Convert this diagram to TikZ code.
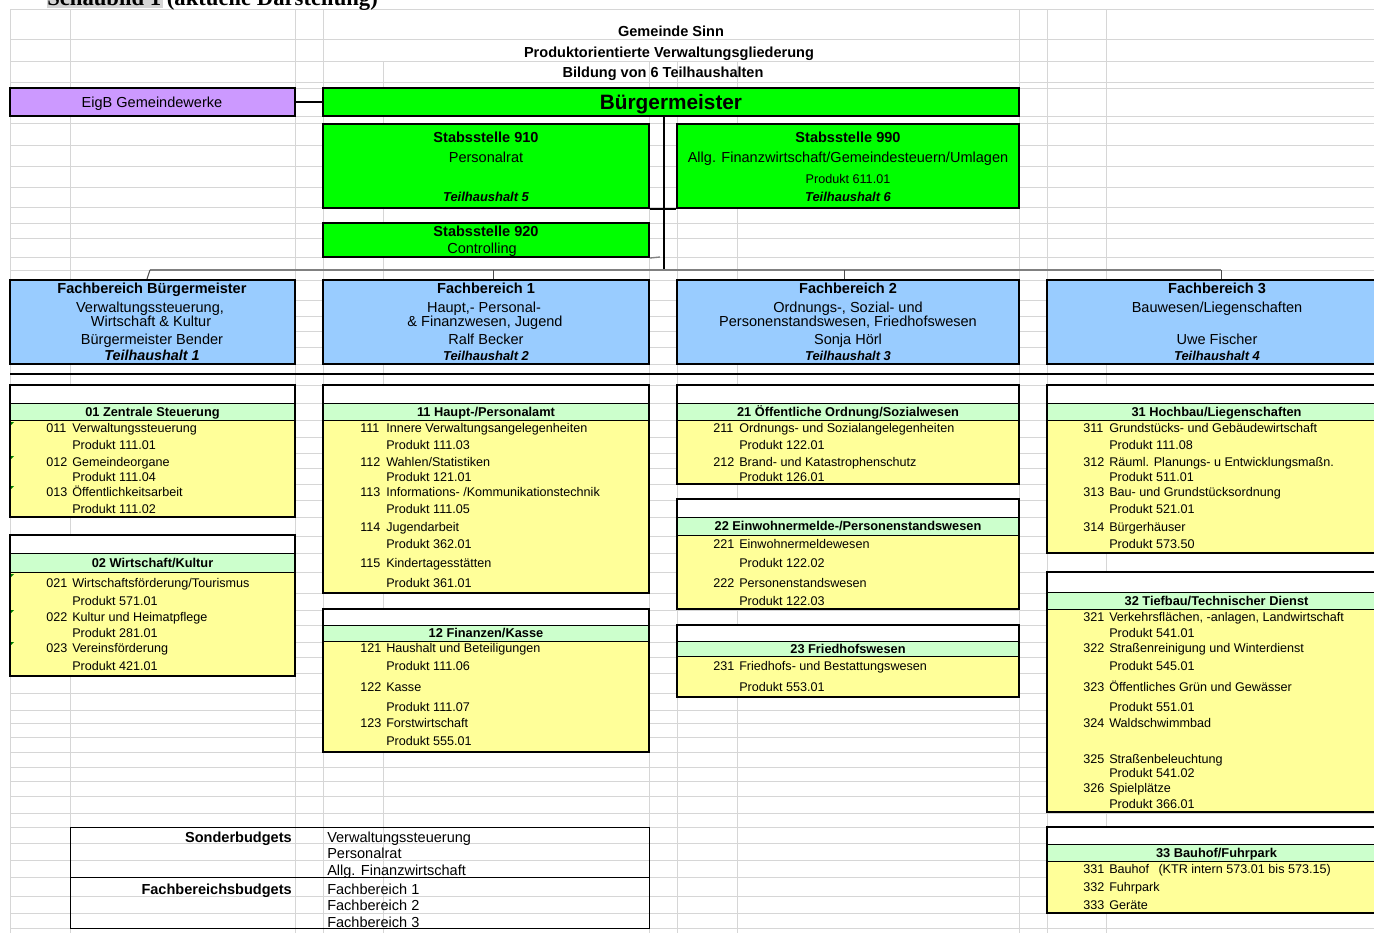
\documentclass[tikz,border=0pt]{standalone}
\usepackage{fontspec}
\setmainfont{Liberation Sans}
\newfontfamily\headserif{Liberation Serif}
\usetikzlibrary{fit}

\definecolor{eigblila}{HTML}{CC99FF}
\definecolor{bmgruen}{HTML}{00FF00}
\definecolor{fbblau}{HTML}{99CCFF}
\definecolor{kopfgruen}{HTML}{CCFFCC}
\definecolor{gelb}{HTML}{FFFF99}
\definecolor{gitter}{HTML}{D6D6D6}
\definecolor{linkgrau}{HTML}{808080}
\definecolor{markgrau}{HTML}{D4D4D4}
\definecolor{fehlergruen}{HTML}{008000}

\begin{document}
\begin{tikzpicture}[
  x = 0.75pt, y = -0.75pt,
  % one unit = one pixel of the sheet
  cellgrid/.style = {draw=gitter, line width=0.6pt},
  panel/.style    = {draw, line width=1.5pt, inner sep=0pt},
  seprule/.style  = {line width=0.75pt},
  conn/.style     = {line width=1.1pt},
  busline/.style  = {draw=linkgrau, line width=1.5pt},
  dropline/.style = {draw=black!70, line width=0.75pt},
  head/.style     = {anchor=base, inner sep=0pt, yshift=-3.9pt, font=\fontsize{10.9}{12}\selectfont\bfseries},
  lbl/.style      = {anchor=base, inner sep=0pt, yshift=-3.9pt, font=\fontsize{10.9}{12}\selectfont},
  thh/.style      = {anchor=base, inner sep=0pt, yshift=-3.5pt, font=\fontsize{9.7}{11}\selectfont\bfseries\itshape},
  prod/.style     = {anchor=base, inner sep=0pt, yshift=-3.4pt, font=\fontsize{9.45}{11}\selectfont},
  unithead/.style = {anchor=base, inner sep=0pt, yshift=-3.4pt, font=\fontsize{9.6}{11}\selectfont\bfseries},
  item/.style     = {anchor=base west, inner sep=0pt, yshift=-3.4pt, font=\fontsize{9.45}{11}\selectfont},
]
\useasboundingbox (0,0) rectangle (1374,933);
\clip (0,0) rectangle (1374,933);
\fill[white] (0,0) rectangle (1374,933);

% --- sheet grid
\foreach \gy in {9,39,61,82,88,116,123,145,166,187,207,223,238,257,270,280,300,316,331,347,364,374,
                 385,403,420,437,453,468,484,500,517,536,553,572,593,610,625,642,657,673,693,710,
                 723,737,752,767,781,796,813,827,843,860,877,896,913,928}
  \draw[cellgrid] (10,\gy) -- (1374,\gy);
\foreach \gx in {10,70,295,323,1019,1047,1106}
  \draw[cellgrid] (\gx,9) -- (\gx,933);
\foreach \gx in {383,649,677,737}
  \draw[cellgrid] (\gx,61) -- (\gx,933);

% --- caption above the sheet (cut by the page edge)
\fill[markgrau] (47,-15) rectangle (163,8);
\node[anchor=base west, inner sep=0pt, font=\headserif\fontsize{17}{20}\selectfont\bfseries]
  (schaubild) at (47,5) {Schaubild 1 (aktuelle Darstellung)};

% --- title rows
\node[head] (titel1) at (671,31) {Gemeinde Sinn};
\node[head] (titel2) at (669,52) {Produktorientierte Verwaltungsgliederung};
\node[head] (titel3) at (663,72) {Bildung von 6 Teilhaushalten};

% --- top row: Eigenbetrieb and Buergermeister
\node[panel, fill=eigblila, fit={(10,88) (295,116)}] (eigb) {};
\node[lbl] (eigb-t) at (152,102) {EigB Gemeindewerke};
\node[panel, fill=bmgruen, fit={(323,88) (1019,116)}] (bgm) {};
\node[head, yshift=-1.7pt, font=\fontsize{15.6}{18}\selectfont\bfseries] (bgm-t) at (671,102) {Bürgermeister};

% --- Stabsstellen
\node[panel, fill=bmgruen, fit={(323,124) (649,208)}] (st910) {};
\node[head] (st910-t) at (486,137) {Stabsstelle 910};
\node[lbl]  (st910-a) at (486,157) {Personalrat};
\node[thh]  (st910-h) at (486,197) {Teilhaushalt 5};

\node[panel, fill=bmgruen, fit={(677,124) (1019,208)}] (st990) {};
\node[head] (st990-t) at (848,137) {Stabsstelle 990};
\node[lbl]  (st990-a) at (848,157) {Allg. Finanzwirtschaft/Gemeindesteuern/Umlagen};
\node[prod] (st990-p) at (848,179) {Produkt 611.01};
\node[thh]  (st990-h) at (848,197) {Teilhaushalt 6};

\node[panel, fill=bmgruen, fit={(323,223) (649,257)}] (st920) {};
\node[head] (st920-t) at (486,231) {Stabsstelle 920};
\node[lbl]  (st920-a) at (482,248) {Controlling};

% --- Fachbereiche
\node[panel, fill=fbblau, fit={(10,280) (295,364)}] (fbbm) {};
\node[head] (fbbm-t) at (152,288) {Fachbereich Bürgermeister};
\node[lbl]  (fbbm-a) at (150,307) {Verwaltungssteuerung,};
\node[lbl]  (fbbm-b) at (151,321) {Wirtschaft \& Kultur};
\node[lbl]  (fbbm-c) at (152,339) {Bürgermeister Bender};
\node[thh, font=\fontsize{10.8}{12}\selectfont\bfseries\itshape] (fbbm-h) at (152,356) {Teilhaushalt 1};

\node[panel, fill=fbblau, fit={(323,280) (649,364)}] (fb1) {};
\node[head] (fb1-t) at (486,288) {Fachbereich 1};
\node[lbl]  (fb1-a) at (484,307) {Haupt,- Personal-};
\node[lbl]  (fb1-b) at (485,321) {\& Finanzwesen, Jugend};
\node[lbl]  (fb1-c) at (486,339) {Ralf Becker};
\node[thh]  (fb1-h) at (486,356) {Teilhaushalt 2};

\node[panel, fill=fbblau, fit={(677,280) (1019,364)}] (fb2) {};
\node[head] (fb2-t) at (848,288) {Fachbereich 2};
\node[lbl]  (fb2-a) at (848,307) {Ordnungs-, Sozial- und};
\node[lbl]  (fb2-b) at (848,321) {Personenstandswesen, Friedhofswesen};
\node[lbl]  (fb2-c) at (848,339) {Sonja Hörl};
\node[thh]  (fb2-h) at (848,356) {Teilhaushalt 3};

\node[panel, fill=fbblau, fit={(1047,280) (1386,364)}] (fb3) {};
\node[head] (fb3-t) at (1217,288) {Fachbereich 3};
\node[lbl]  (fb3-a) at (1217,307) {Bauwesen/Liegenschaften};
\node[lbl]  (fb3-c) at (1217,339) {Uwe Fischer};
\node[thh]  (fb3-h) at (1217,356) {Teilhaushalt 4};

% --- connectors
\draw[conn] (eigb.east) -- (bgm.west);
\coordinate (trunk) at (664,271);
\draw[conn] (bgm.south -| trunk) -- (trunk);
\draw[conn] (st910.south east) -- (st990.south west);
\coordinate (stub) at (660,257);
\draw[busline, line width=1pt] (st920.south east) -- (stub);
\coordinate (bus0) at (150,270);
\coordinate (bus1) at (493,270);
\coordinate (bus2) at (844,270);
\coordinate (bus3) at (1221,270);
\draw[busline] (bus0) -- (bus3);
\draw[dropline] (bus0) -- ([xshift=-2.25pt]bus0 |- fbbm.north);
\foreach \k/\fb in {1/fb1, 2/fb2, 3/fb3}
  \draw[dropline] (bus\k) -- (bus\k |- \fb.north);

\draw[line width=1.5pt] (10,374) -- (1374,374);

% --- unit panels: name/left/right/top/head top/head bottom/bottom/title
\foreach \nm/\xa/\xb/\ya/\yg/\yh/\yb/\ttl in {
    u01/10/295/385/403/420/517/{01 Zentrale Steuerung},
    u02/10/295/535/553/572/676/{02 Wirtschaft/Kultur},
    u11/323/649/385/403/420/593/{11 Haupt-/Personalamt},
    u12/323/649/609/625/641/752/{12 Finanzen/Kasse},
    u21/677/1019/385/403/420/484/{21 Öffentliche Ordnung/Sozialwesen},
    u22/677/1019/499/517/535/609/{22 Einwohnermelde-/Personenstandswesen},
    u23/677/1019/625/641/656/697/{23 Friedhofswesen},
    u31/1047/1386/385/403/420/553/{31 Hochbau/Liegenschaften},
    u32/1047/1386/572/592/609/812/{32 Tiefbau/Technischer Dienst},
    u33/1047/1386/827/844/861/913/{33 Bauhof/Fuhrpark}} {
  \fill[white] (\xa,\ya) rectangle (\xb,\yg);
  \fill[kopfgruen] (\xa,\yg) rectangle (\xb,\yh);
  \fill[gelb] (\xa,\yh) rectangle (\xb,\yb);
  \draw[seprule] (\xa,\yg) -- (\xb,\yg) (\xa,\yh) -- (\xb,\yh);
  \node[panel, fit={(\xa,\ya) (\xb,\yb)}] (\nm) {};
  \node[unithead] (\nm-t) at ({(\xa+\xb)/2},{(\yg+\yh)/2}) {\ttl};
}

% error marks of the sheet
\foreach \ty in {422,456,486,574,610,642}
  \fill[fehlergruen] (11,\ty) -- (14,\ty) -- (11,\ty+3) -- cycle;

% --- unit entries: row/number/text
\foreach \y/\n/\t in {
    428/011/Verwaltungssteuerung, 445//Produkt 111.01,
    462/012/Gemeindeorgane, 477//Produkt 111.04,
    492/013/Öffentlichkeitsarbeit, 509//Produkt 111.02,
    583/021/{Wirtschaftsförderung/Tourismus}, 601//Produkt 571.01,
    617/022/Kultur und Heimatpflege, 633//Produkt 281.01,
    648/023/Vereinsförderung, 666//Produkt 421.01}
  \node[item] (c0-\y) at (46,\y) {\makebox[19.5pt][l]{\n}\t};

\foreach \y/\n/\t in {
    428/111/Innere Verwaltungsangelegenheiten, 445//Produkt 111.03,
    462/112/{Wahlen/Statistiken}, 477//Produkt 121.01,
    492/113/{Informations- /Kommunikationstechnik}, 509//Produkt 111.05,
    527/114/Jugendarbeit, 544//Produkt 362.01,
    563/115/Kindertagesstätten, 583//Produkt 361.01,
    648/121/Haushalt und Beteiligungen, 666//Produkt 111.06,
    687/122/Kasse, 707//Produkt 111.07,
    723/123/Forstwirtschaft, 741//Produkt 555.01}
  \node[item] (c1-\y) at (360,\y) {\makebox[19.5pt][l]{\n}\t};

\foreach \y/\n/\t in {
    428/211/Ordnungs- und Sozialangelegenheiten, 445//Produkt 122.01,
    462/212/Brand- und Katastrophenschutz, 477//Produkt 126.01,
    544/221/Einwohnermeldewesen, 563//Produkt 122.02,
    583/222/Personenstandswesen, 601//Produkt 122.03,
    666/231/Friedhofs- und Bestattungswesen, 687//Produkt 553.01}
  \node[item] (c2-\y) at (713,\y) {\makebox[19.5pt][l]{\n}\t};

\foreach \y/\n/\t in {
    428/311/Grundstücks- und Gebäudewirtschaft, 445//Produkt 111.08,
    462/312/Räuml. Planungs- u Entwicklungsmaßn., 477//Produkt 511.01,
    492/313/Bau- und Grundstücksordnung, 509//Produkt 521.01,
    527/314/Bürgerhäuser, 544//Produkt 573.50,
    617/321/{Verkehrsflächen, -anlagen, Landwirtschaft}, 633//Produkt 541.01,
    648/322/Straßenreinigung und Winterdienst, 666//Produkt 545.01,
    687/323/Öffentliches Grün und Gewässer, 707//Produkt 551.01,
    723/324/Waldschwimmbad,
    759/325/Straßenbeleuchtung, 773//Produkt 541.02,
    788/326/Spielplätze, 804//Produkt 366.01,
    869/331/{Bauhof\hspace{7pt}(KTR intern 573.01 bis 573.15)},
    887/332/Fuhrpark, 905/333/Geräte}
  \node[item] (c3-\y) at (1083,\y) {\makebox[19.5pt][l]{\n}\t};

% --- budget table
\node[panel, line width=0.75pt, fit={(70,827) (649,928)}] (budget) {};
\draw[seprule] (70,877) -- (649,877);
\node[head, anchor=base east] (sonder) at (292,837) {Sonderbudgets};
\node[head, anchor=base east] (fbbudget) at (292,889) {Fachbereichsbudgets};
\foreach \y/\t in {837/Verwaltungssteuerung, 853/Personalrat, 870/Allg. Finanzwirtschaft,
                   889/Fachbereich 1, 905/Fachbereich 2, 922/Fachbereich 3}
  \node[lbl, anchor=base west] (bud-\y) at (327,\y) {\t};

\end{tikzpicture}
\end{document}
